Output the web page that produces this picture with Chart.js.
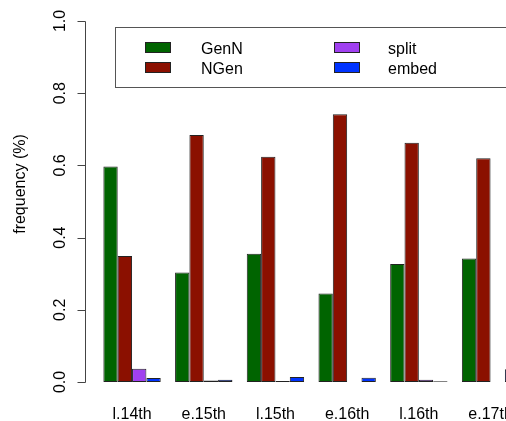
<!DOCTYPE html>
<html>
<head>
<meta charset="utf-8">
<script src="https://cdn.jsdelivr.net/npm/chart.js@4/dist/chart.umd.min.js"></script>
<style>
  html, body { margin: 0; padding: 0; background: #fff; overflow: hidden; }
  #wrap { width: 506px; height: 421px; overflow: hidden; }
</style>
</head>
<body>
<div id="wrap"><canvas id="myChart" width="540" height="421"></canvas></div>
<script>
// periodos (el ultimo queda cortado a la derecha)
const periods = ['l.14th', 'e.15th', 'l.15th', 'e.16th', 'l.16th', 'e.17th'];
const genN  = [0.597, 0.303, 0.355, 0.245, 0.327, 0.342];
const nGen  = [0.349, 0.684, 0.624, 0.742, 0.663, 0.620];
const split = [0.037, 0.004, 0.003, 0.000, 0.006, 0.000];
const embed = [0.011, 0.006, 0.014, 0.012, 0.002, 0.035];
const yTicks = [0, 0.2, 0.4, 0.6, 0.8, 1.0];
const yTitle = 'frequency (%)';

const font = '16px "Liberation Sans", Arial, sans-serif';

const series = [
    { label: 'GenN',  data: genN,  color: '#006400' },
    { label: 'NGen',  data: nGen,  color: '#8b1000' },
    { label: 'split', data: split, color: '#a040f0' },
    { label: 'embed', data: embed, color: '#0033ff' },
];

// ejes y leyenda al estilo R
const rAxes = {
    id: 'rAxes',
    afterDraw(chart) {
        const ctx = chart.ctx;
        const y = chart.scales.y;
        const x = chart.scales.x;
        const axisX = 85.5;
        ctx.save();
        ctx.strokeStyle = '#444';
        ctx.lineWidth = 1;
        ctx.beginPath();
        ctx.moveTo(axisX, Math.round(y.getPixelForValue(0)) + 0.5);
        ctx.lineTo(axisX, Math.round(y.getPixelForValue(1)) + 0.5);
        yTicks.forEach((t) => {
            const py = Math.round(y.getPixelForValue(t)) + 0.5;
            ctx.moveTo(axisX, py);
            ctx.lineTo(axisX - 8, py);
        });
        ctx.stroke();

        ctx.fillStyle = '#000';
        ctx.font = font;
        // etiquetas del eje y rotadas
        yTicks.forEach((t) => {
            const py = y.getPixelForValue(t);
            ctx.save();
            ctx.translate(65, py);
            ctx.rotate(-Math.PI / 2);
            ctx.textAlign = 'center';
            ctx.textBaseline = 'alphabetic';
            ctx.fillText(t.toFixed(1), 0, 0);
            ctx.restore();
        });
        ctx.save();
        ctx.translate(25, 184);
        ctx.rotate(-Math.PI / 2);
        ctx.textAlign = 'center';
        ctx.fillText(yTitle, 0, 0);
        ctx.restore();

        // etiquetas del eje x
        ctx.textAlign = 'center';
        ctx.textBaseline = 'alphabetic';
        periods.forEach((p, i) => {
            ctx.fillText(p, x.getPixelForValue(i), 419);
        });

        // leyenda
        ctx.strokeStyle = '#555';
        ctx.strokeRect(115.5, 27.5, 500, 60);
        const spots = [[145, 42, 201, 54], [145, 62, 201, 74], [334, 42, 388, 54], [334, 62, 388, 74]];
        ctx.textAlign = 'left';
        series.forEach((s, i) => {
            const [sx, sy, tx, ty] = spots[i];
            ctx.fillStyle = s.color;
            ctx.fillRect(sx, sy, 25, 10);
            ctx.strokeStyle = '#222';
            ctx.strokeRect(sx + 0.5, sy + 0.5, 25, 10);
            ctx.fillStyle = '#000';
            ctx.fillText(s.label, tx, ty);
        });
        ctx.restore();
    }
};

new Chart(document.getElementById('myChart'), {
    type: 'bar',
    data: {
        labels: periods,
        datasets: series.map((s) => ({
            label: s.label,
            data: s.data,
            backgroundColor: s.color,
            borderColor: '#222',
            borderWidth: 1,
            borderSkipped: false,
            categoryPercentage: 0.8,
            barPercentage: 1.0,
        })),
    },
    options: {
        responsive: false,
        animation: false,
        layout: { padding: { left: 96.2, right: 13.6, top: 21, bottom: 39 } },
        scales: {
            x: { display: false },
            y: { display: false, min: 0, max: 1 },
        },
        plugins: { legend: { display: false }, tooltip: { enabled: false } },
    },
    plugins: [rAxes],
});
</script>
</body>
</html>
